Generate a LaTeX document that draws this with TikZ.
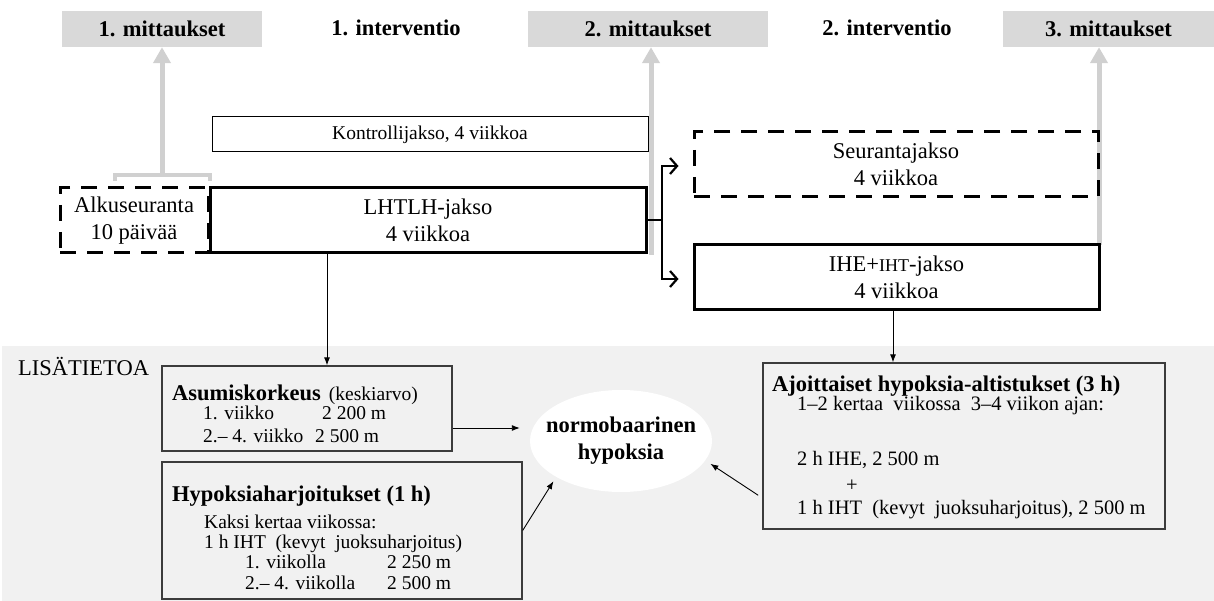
\documentclass[tikz,border=0pt]{standalone}
\usepackage{fontspec}
\setmainfont{Liberation Serif}
\usetikzlibrary{arrows.meta,shapes.geometric,calc}
\definecolor{arrowgray}{RGB}{208,208,208}
\definecolor{hdrgray}{RGB}{217,217,217}
\definecolor{bggray}{RGB}{241,241,241}
\definecolor{boxline}{RGB}{60,60,60}
\newcommand{\fbig}{\fontsize{22.5}{27}\selectfont}
\newcommand{\fmid}{\fontsize{19.5}{23}\selectfont}
\newcommand{\fajo}{\fontsize{20.5}{24}\selectfont}
\tikzset{
  hdrbox/.style={fill=hdrgray, minimum width=#1, minimum height=36pt, inner sep=0pt, font=\fbig\bfseries},
  hdrtxt/.style={inner sep=0pt, font=\fbig\bfseries},
  thickbox/.style={draw, line width=3pt, inner sep=0pt, align=center, font=\fbig},
  dashbox/.style={thickbox, dash pattern=on 16pt off 11pt},
  thinbox/.style={draw, line width=1pt, inner sep=0pt, font=\fmid},
  infobox/.style={draw=boxline, line width=1.3pt, inner sep=0pt},
  btitle/.style={anchor=base west, inner sep=0pt, font=\fbig\bfseries},
  bodytxt/.style={anchor=base west, inner sep=0pt, font=\fmid},
  ajotxt/.style={anchor=base west, inner sep=0pt, font=\fajo},
  grayarr/.style={draw=arrowgray, line width=5pt, -{Triangle[length=16pt,width=17pt]}},
  graybr/.style={draw=arrowgray, line width=4pt},
  thinarr/.style={draw=black, line width=0.9pt, -{Latex[length=8pt,width=6pt]}},
  brline/.style={draw=black, line width=2pt},
  brarr/.style={draw=black, line width=2pt, -{Straight Barb[length=7pt,width=16pt,line width=2.2pt]}},
}
\begin{document}
\begin{tikzpicture}[x=1pt,y=-1pt]
\useasboundingbox (0,0) rectangle (1214,601);
% lower background
\fill[bggray] (2,346) rectangle (1214,601);

% header row
\node[hdrbox=200pt] (m1) at (162,29) {1. mittaukset};
\node[hdrtxt] (i1) at (396,28) {1. interventio};
\node[hdrbox=240pt] (m2) at (648,29) {2. mittaukset};
\node[hdrtxt] (i2) at (887,28) {2. interventio};
\node[hdrbox=211pt] (m3) at (1108.5,29) {3. mittaukset};

% gray arrows (behind boxes)
\coordinate (g1) at (162,175);
\coordinate (b1) at (115,181);
\coordinate (b2) at (210,181);
\coordinate (g2) at (651,255);
\coordinate (g3) at (1099,245);
\draw[graybr] (b1) |- (g1) -| (b2);
\draw[grayarr] (g1) -- (g1 |- m1.south);
\draw[grayarr] (g2) -- (g2 |- m2.south);
\draw[grayarr] (g3) -- (g3 |- m3.south);

% main boxes
\node[thinbox, minimum width=436pt, minimum height=35pt] (kontr) at (430,134.5) {Kontrollijakso, 4 viikkoa};
\node[dashbox, minimum width=148pt, minimum height=65pt] (alku) at (134,220.5) {Alkuseuranta\\10 päivää};
\node[thickbox, minimum width=436pt, minimum height=65pt] (lhtlh) at (428,220.5) {LHTLH-jakso\\4 viikkoa};
\node[dashbox, minimum width=404pt, minimum height=65pt] (seur) at (896,164.5) {Seurantajakso\\4 viikkoa};
\node[thickbox, minimum width=405pt, minimum height=64pt] (ihe) at (896.5,277) {IHE+{\fontsize{18}{22}\selectfont IHT}-jakso\\4 viikkoa};

% branch arrows
\coordinate (br) at (662,220.5);
\draw[brline] (lhtlh.east) -- (br);
\draw[brarr, shorten >=14pt] (br) |- ($(seur.west)+(0,1.5)$);
\draw[brarr, shorten >=14pt] (br) |- ($(ihe.west)+(0,2)$);

% lower part
\node[anchor=base west, inner sep=0pt, font=\fbig] (lisa) at (18,375) {LISÄTIETOA};

\node[infobox, minimum width=290pt, minimum height=85pt] (asum) at (307,408.5) {};
\node[btitle] (asumt) at (172,400) {Asumiskorkeus\hspace{8pt}{\fmid\mdseries (keskiarvo)}};
\node[bodytxt] (asum1) at (203,419) {1. viikko};
\node[bodytxt] (asum1b) at (322,419) {2 200 m};
\node[bodytxt] (asum2) at (203,442) {2.– 4. viikko};
\node[bodytxt] (asum2b) at (315,442) {2 500 m};

\node[infobox, minimum width=360pt, minimum height=137pt] (hyp) at (342,530.5) {};
\node[btitle] (hypt) at (172,501) {Hypoksiaharjoitukset (1 h)};
\node[bodytxt] (hyp1) at (204,528) {Kaksi kertaa viikossa:};
\node[bodytxt] (hyp2) at (204,548) {1 h IHT\ \ (kevyt\ \ juoksuharjoitus)};
\node[bodytxt] (hyp3) at (245,568) {1. viikolla};
\node[bodytxt] (hyp3b) at (387,568) {2 250 m};
\node[bodytxt] (hyp4) at (245,589) {2.– 4. viikolla};
\node[bodytxt] (hyp4b) at (387,589) {2 500 m};

\node[ellipse, fill=white, minimum width=182pt, minimum height=102pt, inner sep=0pt] (ell) at (621,441) {};
\node[inner sep=0pt, align=center, font=\fbig\bfseries] (ellt) at (ell) {normobaarinen\\hypoksia};

\node[infobox, minimum width=402pt, minimum height=166pt] (ajo) at (964,446) {};
\node[btitle] (ajot) at (772,391) {Ajoittaiset hypoksia-altistukset (3 h)};
\node[ajotxt] (ajo1) at (797,410) {1–2 kertaa\ \ viikossa\ \ 3–4 viikon ajan:};
\node[ajotxt] (ajo2) at (797,465) {2 h IHE, 2 500 m};
\node[inner sep=0pt, font=\fajo] (ajo3) at (852,486) {+};
\node[ajotxt] (ajo4) at (797,514) {1 h IHT\ \ (kevyt\ \ juoksuharjoitus), 2 500 m};

% thin arrows
\coordinate (a1) at ($(lhtlh.south)+(-101,0)$);
\draw[thinarr] (a1) -- (a1 |- asum.north);
\coordinate (a2) at ($(ihe.south)+(-3.5,0)$);
\draw[thinarr] (a2) -- (a2 |- ajo.north);
\coordinate (a3) at ($(asum.east)+(0,19.5)$);
\draw[thinarr, shorten >=10pt] (a3) -- (a3 -| ell.west);
\draw[thinarr, shorten >=5pt] (hyp.east) -- (ell.209);
\draw[thinarr, shorten <=5pt, shorten >=6pt] ($(ajo.west)+(0,52)$) -- (ell.-13);
\end{tikzpicture}
\end{document}
